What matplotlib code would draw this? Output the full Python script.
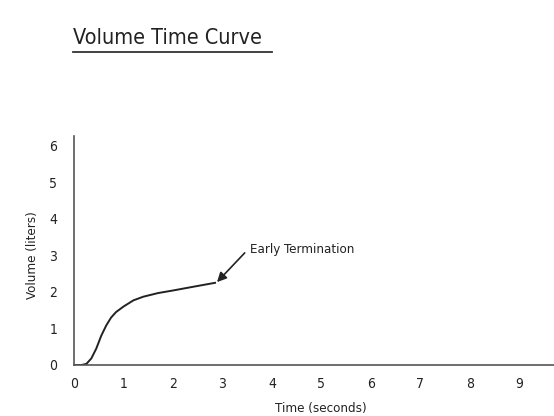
import numpy as np
import matplotlib.pyplot as plt
from matplotlib.lines import Line2D

# values
time_s = [0, 0.15, 0.25, 0.35, 0.45, 0.55, 0.65, 0.75, 0.85, 1.0,
          1.2, 1.4, 1.7, 2.0, 2.4, 2.85]
volume_l = [0, 0, 0.03, 0.18, 0.45, 0.8, 1.08, 1.3, 1.45, 1.6,
            1.77, 1.87, 1.97, 2.04, 2.14, 2.25]
x_ticks = [0, 1, 2, 3, 4, 5, 6, 7, 8, 9]
y_ticks = [0, 1, 2, 3, 4, 5, 6]

plt.rcParams['font.family'] = ['DejaVu Sans']
plt.rcParams['font.stretch'] = 'condensed'

fig = plt.figure(figsize=(5.54, 4.16), dpi=100)
ax = fig.add_axes([0.1336, 0.1226, 0.8664, 0.5505])

ax.plot(time_s, volume_l, color='#222222', lw=1.4)

ax.set_xlim(0, 9.7)
ax.set_ylim(0, 6.27)
ax.set_xticks(x_ticks)
ax.set_yticks(y_ticks)
ax.tick_params(length=0, labelsize=10, colors='#222222')
ax.tick_params(axis='x', pad=9)
ax.tick_params(axis='y', pad=12)
for s in ['top', 'right']:
    ax.spines[s].set_visible(False)
for s in ['left', 'bottom']:
    ax.spines[s].set_color('#555555')
    ax.spines[s].set_linewidth(1.2)

ax.text(0.515, -0.188, 'Time (seconds)', transform=ax.transAxes,
        fontsize=9.5, color='#222222', ha='center', va='center')
ax.text(-0.0875, 0.48, 'Volume (liters)', transform=ax.transAxes,
        fontsize=9.5, color='#222222', ha='center', va='center', rotation=90)

# callout
ax.text(3.56, 3.15, 'Early Termination', fontsize=9.5, color='#222222',
        va='center')
ax.annotate('', xy=(2.89, 2.27), xytext=(3.45, 3.07),
            arrowprops=dict(arrowstyle='-|>', color='#222222', lw=1.2,
                            mutation_scale=14, shrinkA=0, shrinkB=0))

fig.text(0.132, 0.909, 'Volume Time Curve', fontsize=15.5, color='#222222',
         va='center')
fig.add_artist(Line2D([0.132, 0.491], [0.875, 0.875], color='#333333', lw=1.3))

fig.savefig('out.png', dpi=100)
